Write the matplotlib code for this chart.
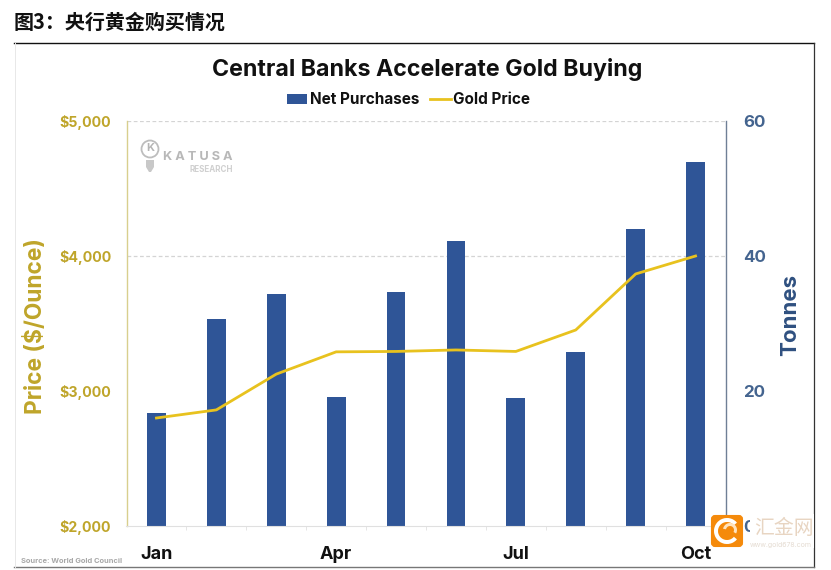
import matplotlib
matplotlib.use("Agg")
import matplotlib.pyplot as plt
from matplotlib.patches import FancyBboxPatch, Circle, Wedge, Rectangle, Polygon
from matplotlib.lines import Line2D

plt.rcParams['font.family'] = ['Inter', 'DejaVu Sans']

months = ["Jan","Feb","Mar","Apr","May","Jun","Jul","Aug","Sep","Oct"]
tonnes = [16.7,30.7,34.4,19.1,34.7,42.2,19.0,25.8,44.0,53.9]
gold = [2800,2860,3125,3290,3293,3304,3293,3452,3867,4000]
shown_ticks = [0,3,6,9]
price_ticks = [2000,3000,4000,5000]
tonne_ticks = [20,40,60]

BLUE = "#2F5597"
GOLD = "#E8C21E"
GOLDTXT = "#BFA52A"
W,H = 831,570
fig = plt.figure(figsize=(W/100,H/100),dpi=100,facecolor="white")

def axrect(l,t,r,b):
    return [l/W,1-b/H,(r-l)/W,(b-t)/H]

bg = fig.add_axes([0,0,1,1],zorder=0)
bg.set_xlim(0,W); bg.set_ylim(H,0); bg.axis("off")
bg.add_line(Line2D([14,813.5],[42.5,42.5],color="#111111",lw=1.0))
bg.add_line(Line2D([813.5,813.5],[42.5,567],color="#333333",lw=0.9))
bg.add_line(Line2D([14,813.5],[567,567],color="#777777",lw=1.0))
bg.add_line(Line2D([14.5,14.5],[42.5,567],color="#E8E8E8",lw=0.7))
bg.text(14,22,"图3\uff1a央行黄金购买情况",family=['Noto Sans CJK SC','DejaVu Sans'],
        fontsize=14.4,fontweight="bold",color="#111111",va="center",ha="left")
bg.text(427,69.5,"Central Banks Accelerate Gold Buying",fontsize=16.7,fontweight="bold",
        color="#111111",ha="center",va="center")
bg.text(21,561,"Source: World Gold Council",fontsize=5.4,fontweight="bold",color="#A8A8A8",
        ha="left",va="center")
bg.add_patch(Rectangle((287,94),20,10,color=BLUE,lw=0))
bg.text(310,99,"Net Purchases",fontsize=11.0,fontweight="bold",color="#111111",va="center",ha="left")
bg.add_line(Line2D([430,451],[99,99],color=GOLD,lw=2))
bg.text(453,99,"Gold Price",fontsize=11.0,fontweight="bold",color="#111111",va="center",ha="left")

ax = fig.add_axes(axrect(126.5,121,725.5,526),zorder=3)
ax2 = ax.twinx()
ax.set_zorder(3); ax2.set_zorder(2); ax.patch.set_visible(False)
x = list(range(len(months)))
for v in (40,60):
    ax2.axhline(v,color="#D4D4D4",lw=0.9,ls=(0,(3,2)),zorder=1)
ax2.bar(x,tonnes,width=0.315,color=BLUE,zorder=3)
ax.plot(x,gold,color=GOLD,lw=2,solid_joinstyle="round",zorder=4)
ax.set_xlim(-0.5,9.5)
ax.set_ylim(2000,5000); ax2.set_ylim(0,60)
ax.set_yticks(price_ticks)
ax.set_yticklabels([f"${v:,}" for v in price_ticks],fontsize=10.2,fontweight="bold",color=GOLDTXT)
ax2.set_yticks([0]+tonne_ticks)
ax2.set_yticklabels(["0"]+[str(v) for v in tonne_ticks],fontsize=12.2,fontweight="bold",color="#44648F")
ax.set_xticks(shown_ticks)
ax.set_xticklabels([months[i] for i in shown_ticks],fontsize=13,fontweight="bold",color="#111111")
ax.set_xticks([i-0.5 for i in range(1,10)],minor=True)
ax.tick_params(axis="x",which="major",length=0,pad=14.5)
ax.tick_params(axis="x",which="minor",length=3,color="#E0E0E0",width=0.6)
ax.tick_params(axis="y",length=0,pad=11)
ax2.tick_params(axis="y",length=0,pad=13)
ax2.tick_params(axis="x",length=0)
for a in (ax,ax2):
    for s in a.spines.values():
        s.set_visible(False)
ax.spines["left"].set_visible(True); ax.spines["left"].set_color("#D8CF8E"); ax.spines["left"].set_linewidth(1)
ax2.spines["right"].set_visible(True); ax2.spines["right"].set_color("#6F7F96"); ax2.spines["right"].set_linewidth(1)
ax.spines["bottom"].set_visible(True); ax.spines["bottom"].set_color("#E0E0E0"); ax.spines["bottom"].set_linewidth(0.8)

fig.text(36/W,1-326/H,"Price ($/Ounce)",rotation=90,fontsize=16.4,fontweight="bold",color=GOLDTXT,ha="center",va="center")
fig.text(790/W,1-315/H,"Tonnes",rotation=90,fontsize=16,fontweight="bold",color="#2F5080",ha="center",va="center")

fg = fig.add_axes([0,0,1,1],zorder=10)
fg.set_xlim(0,W); fg.set_ylim(H,0); fg.axis("off"); fg.patch.set_visible(False)
fg.add_patch(Circle((150,149),8.5,fill=False,ec="#BDBDBD",lw=1.3))
fg.add_patch(Polygon([(146,160),(154,160),(154,167),(151,172),(149,172),(146,167)],fc="#C8C8C8",ec="none"))
fg.text(150,148,"K",fontsize=8,fontweight="bold",color="#B5B5B5",ha="center",va="center")
fg.text(163,157,"K A T U S A",fontsize=9.2,fontweight="bold",color="#B8B8B8",ha="left",va="center")
fg.text(190,169,"RESEARCH",fontsize=5.8,fontweight="bold",color="#D0D0D0",ha="left",va="center")
fg.add_patch(Rectangle((749.5,514),64,34,fc="white",ec="none"))
fg.add_patch(FancyBboxPatch((712,516),30,30,boxstyle="round,pad=0,rounding_size=3",fc="#F58A0B",ec="#F58A0B",lw=1.5))
fg.add_patch(Wedge((727,531),13,40,320,width=4,fc="white",ec="none"))
fg.add_patch(Wedge((730,530),7,190,30,width=3,fc="#FFE3BE",ec="none"))
fg.text(754,528,"汇金网",family=['Noto Sans CJK SC','DejaVu Sans'],fontsize=14.3,color="#E8D5C2",ha="left",va="center")
fg.text(750,545,"www.gold678.com",fontsize=5.0,color="#E5DCD2",ha="left",va="center")

fig.savefig("out.png",dpi=100,facecolor="white")
